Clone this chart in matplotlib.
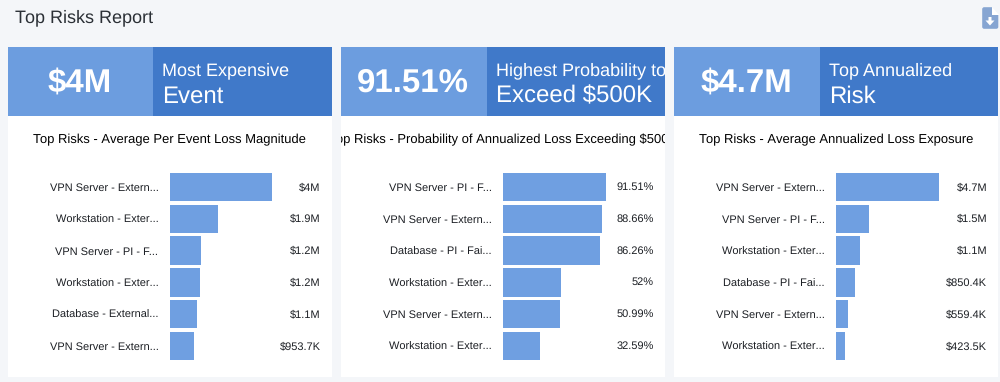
import matplotlib.pyplot as plt
from matplotlib.patches import FancyBboxPatch, Polygon, Rectangle

plt.rcParams['font.family'] = ['Liberation Sans', 'DejaVu Sans']
plt.rcParams['text.hinting'] = 'no_hinting'
plt.rcParams['text.hinting_factor'] = 1

fig_w, fig_h = 1000, 382

page_title = 'Top Risks Report'

# one entry per card
big_numbers = ['$4M', '91.51%', '$4.7M']
header_top = ['Most Expensive', 'Highest Probability to', 'Top Annualized']
header_bottom = ['Event', 'Exceed $500K', 'Risk']
chart_titles = [
    'Top Risks - Average Per Event Loss Magnitude',
    'Top Risks - Probability of Annualized Loss Exceeding $500K',
    'Top Risks - Average Annualized Loss Exposure',
]

labels_event = [
    'VPN Server - Extern...',
    'Workstation - Exter...',
    'VPN Server - PI - F...',
    'Workstation - Exter...',
    'Database - External...',
    'VPN Server - Extern...',
]
values_event = [4.0, 1.9, 1.24, 1.19, 1.07, 0.9537]
text_event = ['$4M', '$1.9M', '$1.2M', '$1.2M', '$1.1M', '$953.7K']

labels_prob = [
    'VPN Server - PI - F...',
    'VPN Server - Extern...',
    'Database - PI - Fai...',
    'Workstation - Exter...',
    'VPN Server - Extern...',
    'Workstation - Exter...',
]
values_prob = [91.51, 88.66, 86.26, 52, 50.99, 32.59]
text_prob = ['91.51%', '88.66%', '86.26%', '52%', '50.99%', '32.59%']

labels_annual = [
    'VPN Server - Extern...',
    'VPN Server - PI - F...',
    'Workstation - Exter...',
    'Database - PI - Fai...',
    'VPN Server - Extern...',
    'Workstation - Exter...',
]
values_annual = [4.7, 1.5, 1.1, 0.8504, 0.5594, 0.4235]
text_annual = ['$4.7M', '$1.5M', '$1.1M', '$850.4K', '$559.4K', '$423.5K']

all_labels = [labels_event, labels_prob, labels_annual]
all_values = [values_event, values_prob, values_annual]
all_text = [text_event, text_prob, text_annual]

# colours and layout, in pixels of the reference
page_bg = '#f4f6f9'
light_blue = '#6c9ddf'
dark_blue = '#4079c9'
bar_blue = '#6f9fe1'
icon_blue = '#86a5d2'
text_dark = '#1c1f24'

card_left = [7.5, 341, 674]
card_width = 324
header_y = (47, 116)
card_bottom = 377
split = 145.5
bar_offset = 162
bar_span = 102.5
value_right = 313
bars_y = (171, 362)


def px_axes(fig, left, top, width, height):
    return fig.add_axes([
        left / fig_w,
        1 - (top + height) / fig_h,
        width / fig_w,
        height / fig_h,
    ])


fig = plt.figure(figsize=(fig_w / 100, fig_h / 100), dpi=100, facecolor=page_bg)

# page layer, y runs downwards like the screenshot
page = px_axes(fig, 0, 0, fig_w, fig_h)
page.set_xlim(0, fig_w)
page.set_ylim(fig_h, 0)
page.axis('off')
page.text(15, 18, page_title, fontsize=13.3, color='#2b3036', va='center', ha='left')

# download icon
page.add_patch(FancyBboxPatch(
    (983, 8), 14.5, 20, boxstyle='round,pad=0.8,rounding_size=2',
    fc=icon_blue, ec='none',
))
page.add_patch(Polygon([(992, 6.5), (999, 6.5), (999, 15), (992, 15)], fc=page_bg, ec='none'))
page.add_patch(Polygon([(992, 7), (992, 15), (999, 15)], fc='white', ec='none'))
page.add_patch(Polygon(
    [(988.5, 17), (991.5, 17), (991.5, 20.5), (994.5, 20.5), (990, 25.5), (985.5, 20.5), (988.5, 20.5)],
    fc='white', ec='none',
))

for i, left in enumerate(card_left):
    # card layer clips the texts that run past the card edge
    card = px_axes(fig, left, header_y[0], card_width, card_bottom - header_y[0])
    card.set_xlim(0, card_width)
    card.set_ylim(card_bottom - header_y[0], 0)
    card.axis('off')
    card.add_patch(Rectangle((0, 0), card_width, card_bottom - header_y[0], fc='white', ec='none'))

    head_h = header_y[1] - header_y[0]
    card.add_patch(Rectangle((0, 0), split, head_h, fc=light_blue, ec='none'))
    card.add_patch(Rectangle((split, 0), card_width - split, head_h, fc=dark_blue, ec='none'))

    card.text(split / 2 - 0.5, 36.5, big_numbers[i], color='white', fontsize=24,
              fontweight='bold', ha='center', va='center', clip_on=True)
    card.text(split + 9.5, 23.5, header_top[i], color='white', fontsize=13.3,
              ha='left', va='center', clip_on=True)
    card.text(split + 9.5, 49.5, header_bottom[i], color='white', fontsize=17.3,
              ha='left', va='center', clip_on=True)
    card.text(card_width / 2, 92.5, chart_titles[i], color='black', fontsize=9.4,
              ha='center', va='center', clip_on=True)

    # bar chart, drawn on its own axes
    ax = px_axes(fig, left + bar_offset, bars_y[0], bar_span, bars_y[1] - bars_y[0])
    ax.patch.set_visible(False)
    positions = list(range(len(all_values[i])))
    ax.barh(positions, all_values[i], height=0.89, color=bar_blue)
    ax.set_xlim(0, all_values[i][0])
    ax.set_ylim(len(positions) - 0.5, -0.5)
    ax.set_yticks(positions, all_labels[i])
    ax.set_xticks([])
    ax.tick_params(axis='y', length=0, pad=8, labelsize=8.2, labelcolor=text_dark)
    for spine in ax.spines.values():
        spine.set_visible(False)
    # value labels are right aligned at a fixed spot of the card
    label_x = (value_right - bar_offset) / bar_span
    for pos, txt in zip(positions, all_text[i]):
        ax.text(label_x, pos, txt, transform=ax.get_yaxis_transform(), ha='right',
                va='center', fontsize=8.2, color=text_dark)

fig.savefig('out.png', dpi=100, facecolor=page_bg)
